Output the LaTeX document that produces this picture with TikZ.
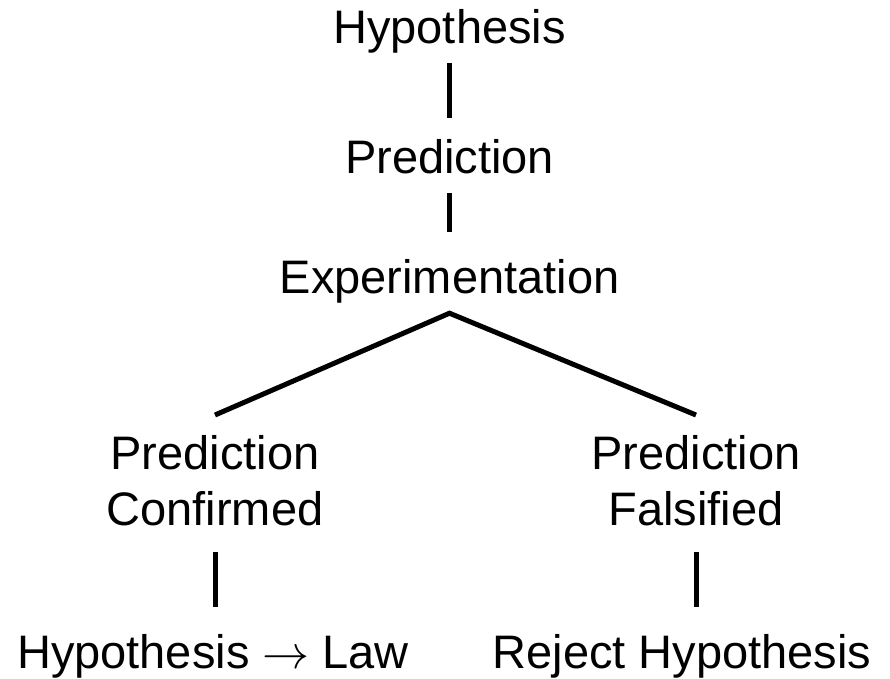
\documentclass[tikz,border=0pt]{standalone}
\usepackage{fix-cm}
\usepackage{fontspec}
\setmainfont{Liberation Sans}
\usepackage{tikz}

\begin{document}
\begin{tikzpicture}[x=1pt, y=1pt,
node distance=130pt,
lbl/.style={font=\fontsize{47}{56}\selectfont, inner xsep=0pt, inner ysep=20pt, text height=35pt, text depth=0pt},
lbl2/.style={font=\fontsize{47}{56}\selectfont, inner xsep=0pt, inner ysep=20pt, align=center},
link/.style={line width=5pt, line join=miter}
]
\useasboundingbox (0,0) rectangle (890,-678);
%Nodes
\node[lbl]      (hyp)                         at (449.5,-25.5)     {Hypothesis};
\node[lbl]      (pred)    [below of =hyp]                          {Prediction};
\node[lbl]      (expt)    [below of =pred, yshift= 10pt]           {Experimentation};
\node[lbl2]     (conf)    [anchor=north]      at (215,-415)        {Prediction\\Confirmed};
\node[lbl2]     (fals)    [anchor=north]      at (696,-415)        {Prediction\\Falsified};
\node[lbl]      (law)                         at (213,-650.5)      {Hypothesis $\rightarrow$ Law};
\node[lbl]      (rej)                         at (682,-650.5)      {Reject Hypothesis};
%Lines
\draw[link] (hyp) -- (pred);
\draw[link, shorten >=6pt] (pred) -- (expt);
\draw[link] (conf.north) -- (expt.south) -- (fals.north);
\draw[link, shorten <=6pt, shorten >=6pt] (conf.south) -- (conf.south |- law.north);
\draw[link, shorten <=6pt, shorten >=6pt] (fals.south) -- (fals.south |- rej.north);
\end{tikzpicture}
\end{document}
